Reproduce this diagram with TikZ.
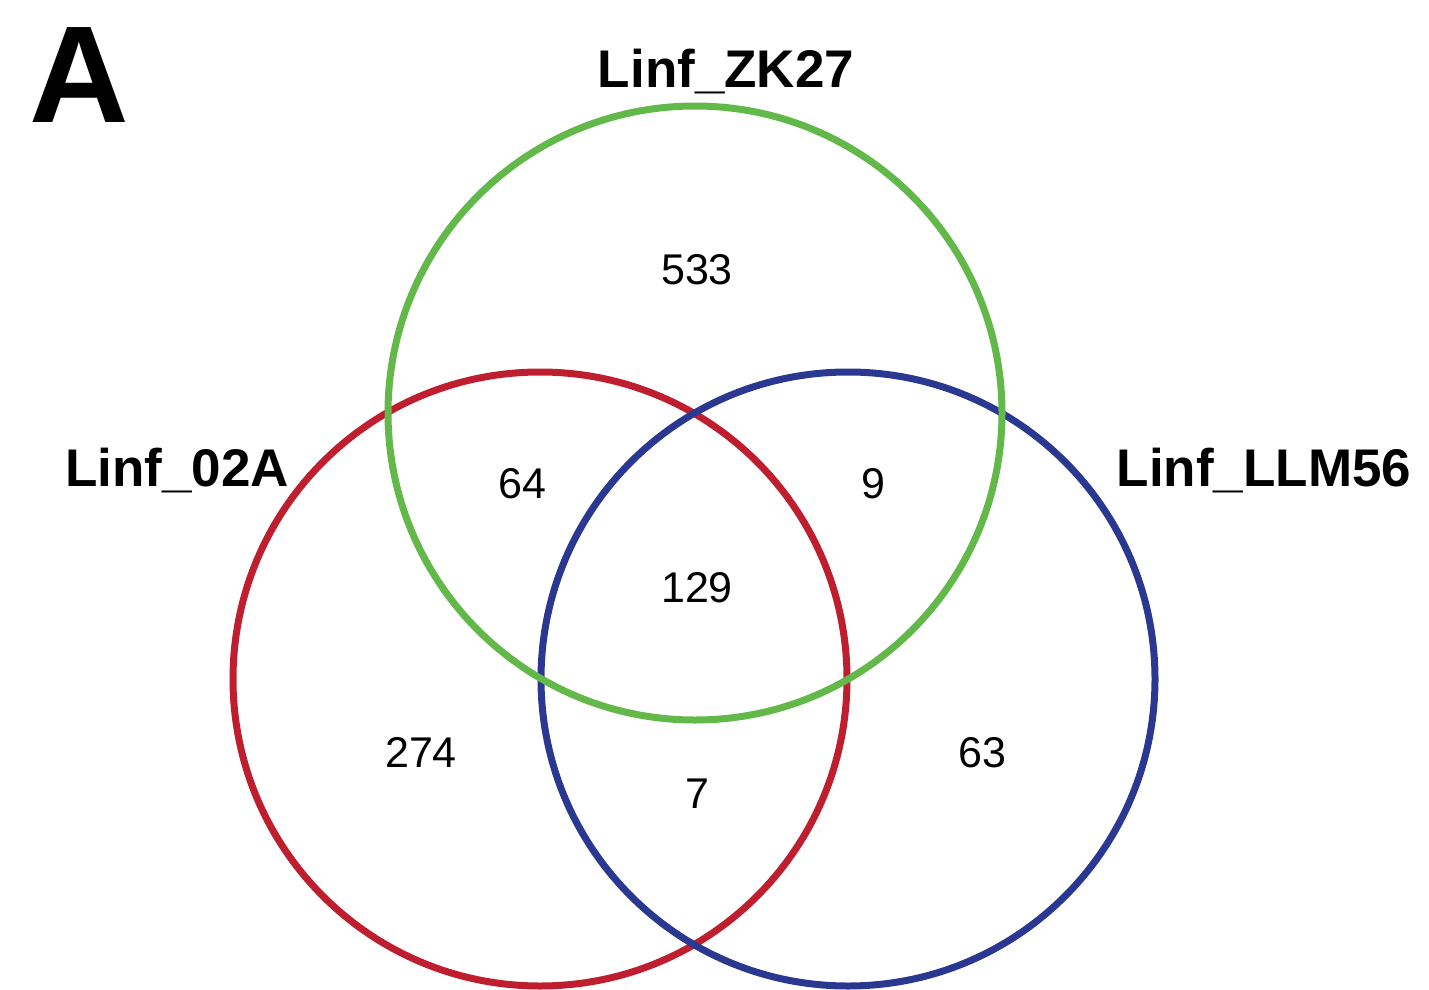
\documentclass[tikz,border=0pt]{standalone}
\usepackage{fontspec}
\setmainfont{Liberation Sans}
\definecolor{vgreen}{RGB}{98,184,72}
\definecolor{vred}{RGB}{190,30,45}
\definecolor{vblue}{RGB}{42,56,145}
\begin{document}
\begin{tikzpicture}[x=1pt,y=-1pt,
  setring/.style={line width=7pt},
  setname/.style={font=\fontsize{53}{60}\selectfont\bfseries, anchor=base, inner sep=0pt},
  count/.style={font=\fontsize{43}{50}\selectfont, anchor=base, inner sep=0pt}]
\useasboundingbox (0,0) rectangle (1429,990);
% the three sets
\draw[setring, vred]   (540,679) circle[radius=307];
\draw[setring, vblue]  (848,679) circle[radius=307];
\draw[setring, vgreen] (695,413) circle[radius=307];
% panel letter
\node[font=\fontsize{138}{140}\selectfont\bfseries, anchor=base, inner sep=0pt] (panel) at (79,122) {A};
% set names
\node[setname] (zk) at (726,88) {Linf\_ZK27};
\node[setname] (a02) at (177,486) {Linf\_02A};
\node[setname] (llm) at (1264,486) {Linf\_LLM56};
% region counts
\node[count] (c533) at (697,284) {533};
\node[count] (c64)  at (522,498) {64};
\node[count] (c9)   at (873,498) {9};
\node[count] (c129) at (697,602) {129};
\node[count] (c274) at (421,767) {274};
\node[count] (c7)   at (697,808) {7};
\node[count] (c63)  at (982,767) {63};
\end{tikzpicture}
\end{document}
